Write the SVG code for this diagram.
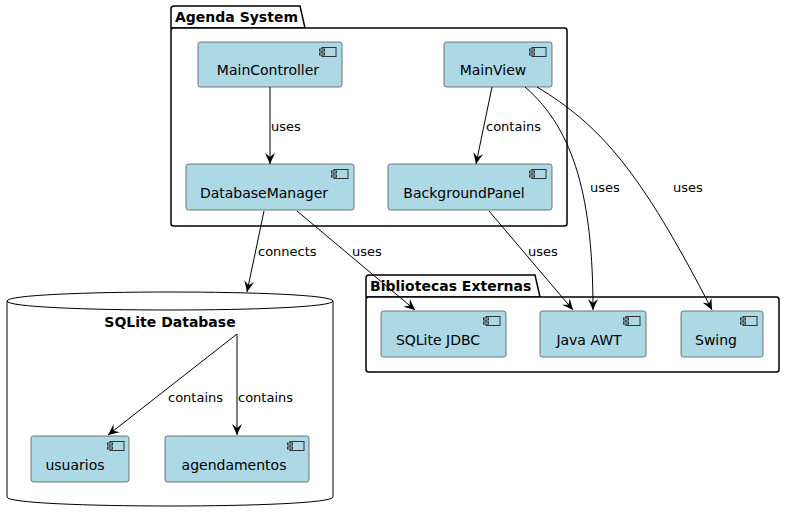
<svg xmlns="http://www.w3.org/2000/svg" width="785" height="522" viewBox="0 0 785 522">
<defs>
<marker id="arr" viewBox="0 0 12 12" refX="11" refY="6" markerWidth="12" markerHeight="12" markerUnits="userSpaceOnUse" orient="auto">
<path d="M0,1 L11,6 L0,11 L4,6 Z" fill="#000"/>
</marker>
<symbol id="icon" viewBox="0 0 18 10" width="18" height="10" overflow="visible">
<rect x="3" y="0.5" width="14" height="9" fill="none" stroke="#333" stroke-width="1"/>
<rect x="0.5" y="2" width="5" height="2" fill="#add8e6" stroke="#333" stroke-width="1"/>
<rect x="0.5" y="6" width="5" height="2" fill="#add8e6" stroke="#333" stroke-width="1"/>
</symbol>
</defs>
<style>
.pkg{fill:#fff;stroke:#000;stroke-width:1.5}
.comp{fill:#add8e6;stroke:#555;stroke-width:0.8}
.name{font-family:"DejaVu Sans",sans-serif;font-size:14px;fill:#000;text-anchor:middle}
.title{font-family:"DejaVu Sans",sans-serif;font-size:14px;font-weight:bold;fill:#000}
.lbl{font-family:"DejaVu Sans",sans-serif;font-size:13px;fill:#000}
.edge{fill:none;stroke:#000;stroke-width:1;marker-end:url(#arr)}
</style>
<rect width="785" height="522" fill="#fff"/>

<g id="pkg-agenda">
<path class="pkg" d="M171,28 L171,9 Q171,6 174,6 L300,6 L305,28 Z"/>
<rect class="pkg" x="171" y="28" width="396" height="198" rx="2.5"/>
<text class="title" x="175" y="22">Agenda System</text>
</g>

<g id="pkg-bibliotecas">
<path class="pkg" d="M366,297 L366,278 Q366,275 369,275 L535,275 L540,297 Z"/>
<rect class="pkg" x="366" y="297" width="413" height="75" rx="2.5"/>
<text class="title" x="370" y="291">Bibliotecas Externas</text>
</g>

<g id="db-sqlite">
<path class="pkg" style="stroke-width:1" d="M7,301 C7,289 333,289 333,301 L333,497 C333,509 7,509 7,497 Z"/>
<path fill="none" stroke="#000" stroke-width="1" d="M7,301 C7,313 333,313 333,301"/>
<text class="title" x="170" y="327" text-anchor="middle">SQLite Database</text>
</g>

<g id="MainController">
<rect class="comp" x="198" y="42" width="144" height="45" rx="2.5"/>
<use href="#icon" x="319" y="47"/>
<text class="name" x="268" y="75">MainController</text>
</g>
<g id="MainView">
<rect class="comp" x="444" y="42" width="108" height="45" rx="2.5"/>
<use href="#icon" x="529" y="47"/>
<text class="name" x="493" y="75">MainView</text>
</g>
<g id="DatabaseManager">
<rect class="comp" x="186" y="164" width="168" height="46" rx="2.5"/>
<use href="#icon" x="331" y="169"/>
<text class="name" x="264" y="198">DatabaseManager</text>
</g>
<g id="BackgroundPanel">
<rect class="comp" x="388" y="164" width="164" height="46" rx="2.5"/>
<use href="#icon" x="529" y="169"/>
<text class="name" x="464" y="198">BackgroundPanel</text>
</g>
<g id="SQLiteJDBC">
<rect class="comp" x="381" y="311" width="125" height="46" rx="2.5"/>
<use href="#icon" x="483" y="316"/>
<text class="name" x="438" y="345">SQLite JDBC</text>
</g>
<g id="JavaAWT">
<rect class="comp" x="540" y="311" width="106" height="46" rx="2.5"/>
<use href="#icon" x="623" y="316"/>
<text class="name" x="589" y="345">Java AWT</text>
</g>
<g id="Swing">
<rect class="comp" x="681" y="311" width="82" height="46" rx="2.5"/>
<use href="#icon" x="740" y="316"/>
<text class="name" x="716" y="345">Swing</text>
</g>
<g id="usuarios">
<rect class="comp" x="31" y="436" width="98" height="46" rx="2.5"/>
<use href="#icon" x="107" y="441"/>
<text class="name" x="75" y="470">usuarios</text>
</g>
<g id="agendamentos">
<rect class="comp" x="165" y="436" width="144" height="46" rx="2.5"/>
<use href="#icon" x="287" y="441"/>
<text class="name" x="234" y="470">agendamentos</text>
</g>

<g id="connectors">
<path class="edge" d="M270,87 L270,164"/>
<text class="lbl" x="271" y="131">uses</text>
<path class="edge" d="M492,87 L476,164"/>
<text class="lbl" x="486" y="131">contains</text>
<path class="edge" d="M525,87 C575,130 593,200 593,310"/>
<text class="lbl" x="590" y="192">uses</text>
<path class="edge" d="M537,87 C600,125 640,170 712,310"/>
<text class="lbl" x="673" y="192">uses</text>
<path class="edge" d="M264,211 L247,292"/>
<text class="lbl" x="258" y="256">connects</text>
<path class="edge" d="M297,211 L415,310"/>
<text class="lbl" x="352" y="256">uses</text>
<path class="edge" d="M489,211 L573,310"/>
<text class="lbl" x="528" y="256">uses</text>
<path class="edge" d="M237,334 L108,435"/>
<text class="lbl" x="168" y="402">contains</text>
<path class="edge" d="M237,334 L237,435"/>
<text class="lbl" x="238" y="402">contains</text>
</g>
</svg>
